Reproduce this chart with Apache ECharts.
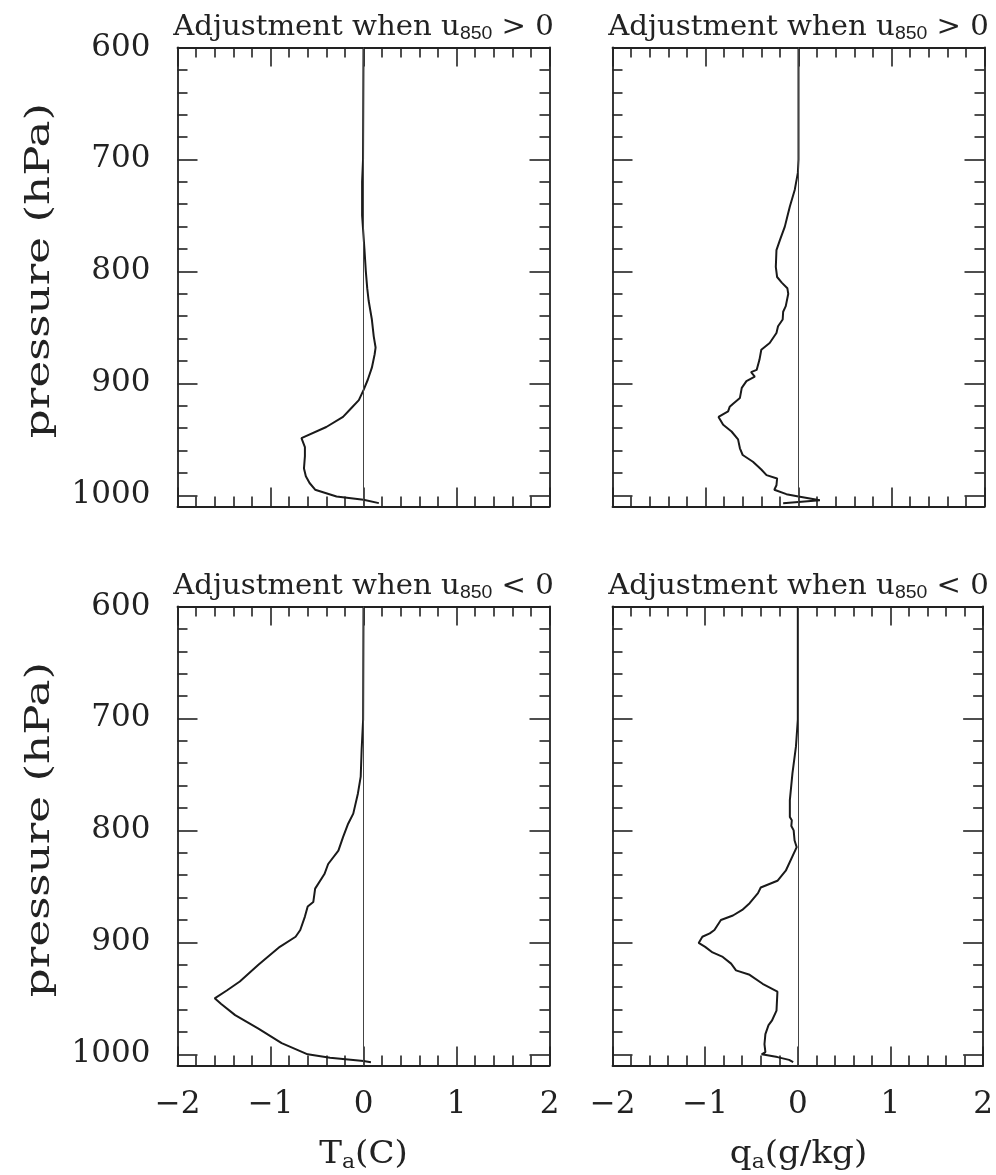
<!DOCTYPE html>
<html><head><meta charset="utf-8">
<script src="https://cdn.jsdelivr.net/npm/echarts@6/dist/echarts.min.js"></script>
<style>html,body{margin:0;padding:0;background:#fff}#c{width:996px;height:1175px}</style>
</head><body><div id="c"></div>
<script>
// ---- data: pressure levels (hPa) and adjustment values ----
const pTempPos = [600, 700, 720, 750, 780, 800, 815, 826, 843, 858, 868, 874, 886, 897, 906, 915, 922, 930, 939, 949, 957, 965, 976, 983, 989, 995, 1001, 1004, 1007];
const tempPos  = [0, -0.005, -0.015, -0.015, 0.01, 0.025, 0.04, 0.055, 0.09, 0.11, 0.13, 0.12, 0.09, 0.045, 0, -0.05, -0.13, -0.22, -0.40, -0.667, -0.63, -0.63, -0.64, -0.62, -0.58, -0.52, -0.29, 0, 0.165];

const pHumPos = [600, 700, 712, 727, 742, 751, 760, 772, 781, 796, 805, 810, 815, 820, 831, 836, 843, 849, 855, 864, 870, 879, 888, 890, 894, 898, 904, 913, 918, 921, 925, 930, 937, 943, 950, 958, 964, 970, 977, 982, 985, 991, 995, 999, 1001, 1004.5, 1007];
const humPos  = [0, 0, -0.007, -0.04, -0.093, -0.12, -0.147, -0.2, -0.237, -0.244, -0.23, -0.18, -0.12, -0.11, -0.137, -0.165, -0.17, -0.22, -0.237, -0.31, -0.40, -0.42, -0.45, -0.51, -0.47, -0.56, -0.61, -0.63, -0.70, -0.74, -0.757, -0.86, -0.81, -0.72, -0.65, -0.63, -0.60, -0.49, -0.40, -0.344, -0.23, -0.237, -0.26, -0.13, 0, 0.23, -0.165];

const pTempNeg = [600, 701, 728, 752, 767, 785, 794, 806, 818, 830, 839, 852, 864, 868, 877, 889, 895, 904, 920, 935, 943, 950, 955, 965, 977, 990, 1000, 1003, 1006, 1007];
const tempNeg  = [0, -0.004, -0.02, -0.03, -0.06, -0.11, -0.165, -0.22, -0.27, -0.38, -0.42, -0.52, -0.54, -0.60, -0.63, -0.68, -0.73, -0.90, -1.13, -1.33, -1.47, -1.60, -1.53, -1.38, -1.13, -0.88, -0.60, -0.36, 0, 0.08];

const pHumNeg = [600, 701, 725, 749, 773, 788, 791, 796, 800, 809, 815, 836, 845, 851, 856, 865, 871, 876, 880, 889, 892, 895, 900.5, 904, 909, 913, 919, 925, 929, 937, 944, 961, 970, 974, 982, 991, 998, 1000, 1002.5, 1005, 1007];
const humNeg  = [0, 0, -0.02, -0.058, -0.086, -0.086, -0.065, -0.07, -0.045, -0.035, -0.012, -0.13, -0.22, -0.40, -0.43, -0.52, -0.60, -0.70, -0.83, -0.90, -0.95, -1.03, -1.07, -1.0, -0.92, -0.81, -0.72, -0.667, -0.52, -0.38, -0.22, -0.23, -0.28, -0.316, -0.35, -0.36, -0.35, -0.39, -0.22, -0.094, -0.05];

// ---- ticks and labels ----
const yMajorTicks = [600, 700, 800, 900, 1000];
const yMinorTicks = [620, 640, 660, 680, 720, 740, 760, 780, 820, 840, 860, 880, 920, 940, 960, 980];
const xTickLabels = ['\u22122', '\u22121', '0', '1', '2'];
const panelTitles = ['Adjustment when u|850| > 0', 'Adjustment when u|850| > 0', 'Adjustment when u|850| < 0', 'Adjustment when u|850| < 0'];
const yName = 'pressure (hPa)';

// ---- layout ----
const INK = '#222';
const SERIF = '"DejaVu Serif", serif';
const grids = [
  {left: 177.5, top: 47.5, width: 372, height: 459},
  {left: 612.5, top: 47.5, width: 372, height: 459},
  {left: 177.5, top: 606.5, width: 372, height: 459},
  {left: 612.5, top: 606.5, width: 372, height: 459}
];
const lineSt = {color: INK, width: 1.8};
const tickSt = {color: INK, width: 1.6};

const xAxes = [], yAxes = [];
grids.forEach((g, i) => {
  const bottomRow = i >= 2, leftCol = i % 2 === 0;
  ['bottom', 'top'].forEach(pos => {
    xAxes.push({
      gridIndex: i, type: 'value', position: pos, min: -2, max: 2, interval: 1,
      axisLine: {show: true, onZero: false, lineStyle: lineSt},
      axisTick: {show: true, inside: true, length: 19, lineStyle: tickSt},
      minorTick: {show: true, splitNumber: 5, length: 10, lineStyle: tickSt},
      splitLine: {show: false}, minorSplitLine: {show: false},
      axisLabel: {show: pos === 'bottom' && bottomRow, margin: 24, fontFamily: SERIF, fontSize: 31, color: INK,
        formatter: v => xTickLabels[Math.round(v) + 2]}
    });
  });
  ['left', 'right'].forEach(pos => {
    yAxes.push({
      gridIndex: i, type: 'value', position: pos, inverse: true, min: 600, max: 1010,
      axisLine: {show: true, onZero: false, lineStyle: lineSt},
      axisTick: {show: true, inside: true, length: 20, customValues: yMajorTicks, lineStyle: tickSt},
      splitLine: {show: false},
      axisLabel: {show: pos === 'left' && leftCol, customValues: yMajorTicks, margin: 27,
        fontFamily: SERIF, fontSize: 31, color: INK, formatter: v => String(v)}
    });
    yAxes.push({
      gridIndex: i, type: 'value', position: pos, inverse: true, min: 600, max: 1010,
      axisLine: {show: false, onZero: false},
      axisTick: {show: true, inside: true, length: 10, customValues: yMinorTicks, lineStyle: tickSt},
      splitLine: {show: false},
      axisLabel: {show: false}
    });
  });
});

const zip = (xs, ps) => xs.map((x, k) => [x, ps[k]]);
const profiles = [zip(tempPos, pTempPos), zip(humPos, pHumPos), zip(tempNeg, pTempNeg), zip(humNeg, pHumNeg)];
const series = profiles.map((d, i) => ({
  type: 'line', xAxisIndex: 2 * i, yAxisIndex: 4 * i, data: d,
  symbol: 'none', showSymbol: false, animation: false, silent: true,
  lineStyle: {color: '#1a1a1a', width: 2},
  markLine: {silent: true, symbol: 'none', animation: false, label: {show: false},
    lineStyle: {color: '#444', width: 1, type: 'solid'}, data: [{xAxis: 0}]}
}));

// ---- texts ----
const graphic = [];
grids.forEach((g, i) => {
  const parts = panelTitles[i].split('|');
  graphic.push({
    type: 'text', x: g.left + g.width / 2, y: g.top - 35, scaleX: 1.08,
    style: {
      text: '{a|' + parts[0] + '}{s|' + parts[1] + '}{a|' + parts[2] + '}',
      align: 'center', verticalAlign: 'top',
      rich: {
        a: {fontFamily: SERIF, fontSize: 27, lineHeight: 31, fill: INK},
        s: {fontFamily: '"Liberation Sans", sans-serif', fontSize: 18, lineHeight: 18, verticalAlign: 'bottom', fill: INK}
      }
    }
  });
});
[0, 2].forEach(i => {
  const g = grids[i];
  graphic.push({
    type: 'text', x: 40, y: g.top + 223, rotation: Math.PI / 2, scaleX: 1.33,
    style: {text: yName, font: '34px ' + SERIF, fill: INK, align: 'center', verticalAlign: 'middle'}
  });
});
const xNames = [['T', 'a', '(C)'], ['q', 'a', '(g/kg)']];
[2, 3].forEach((gi, k) => {
  const g = grids[gi];
  graphic.push({
    type: 'text', x: g.left + g.width / 2, y: 1137, scaleX: 1.1,
    style: {
      text: '{t|' + xNames[k][0] + '}{s|' + xNames[k][1] + '}{t|' + xNames[k][2] + '}',
      align: 'center', verticalAlign: 'top',
      rich: {
        t: {fontFamily: SERIF, fontSize: 31, lineHeight: 36, fill: INK},
        s: {fontFamily: SERIF, fontSize: 20, lineHeight: 20, verticalAlign: 'bottom', fill: INK}
      }
    }
  });
});

const chart = echarts.init(document.getElementById('c'), null, {renderer: 'canvas'});
chart.setOption({
  backgroundColor: '#fff', animation: false,
  grid: grids, xAxis: xAxes, yAxis: yAxes, series: series, graphic: graphic
});
</script></body></html>
